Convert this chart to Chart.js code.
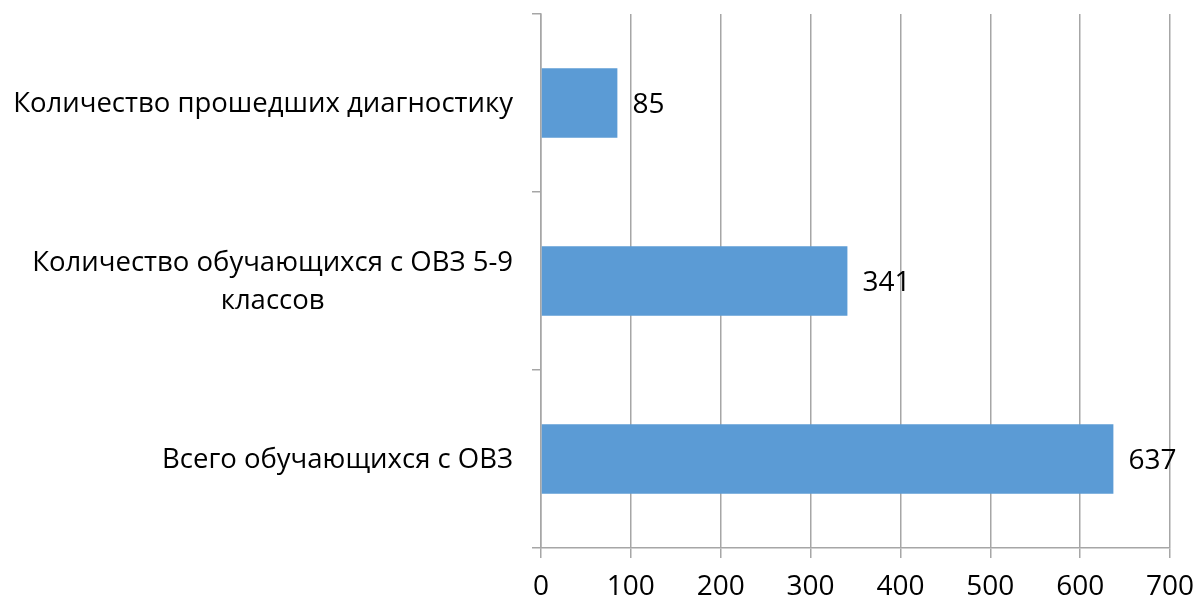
<!DOCTYPE html>
<html>
<head>
<meta charset="utf-8">
<script src="https://cdn.jsdelivr.net/npm/chart.js@4"></script>
<style>
  html, body { margin: 0; padding: 0; background: #fff; }
  #wrap { width: 1196px; height: 600px; }
</style>
</head>
<body>
<div id="wrap"><canvas id="myChart"></canvas></div>
<script>
var categories = [
  'Количество прошедших диагностику',
  ['Количество обучающихся с ОВЗ 5-9', 'классов'],
  'Всего обучающихся с ОВЗ'
];
var values = [85, 341, 637];
var xTicks = [0, 100, 200, 300, 400, 500, 600, 700];

var FONT = '"Open Sans", "DejaVu Sans", sans-serif';
var gridColor = '#a6a6a6';

// category labels: right edge at the same x, wrapped lines centred on each other
var catLabels = {
  id: 'catLabels',
  afterDraw: function(chart) {
    var ctx = chart.ctx, y = chart.scales.y;
    var right = y.right - 28;
    ctx.save();
    ctx.font = '27.5px ' + FONT;
    ctx.fillStyle = '#000';
    ctx.textBaseline = 'middle';
    ctx.textAlign = 'center';
    categories.forEach(function(lab, i) {
      var lines = Array.isArray(lab) ? lab : [lab];
      var w = Math.max.apply(null, lines.map(function(l) { return ctx.measureText(l).width; }));
      var cx = right - w / 2;
      var cy = y.getPixelForTick(i);
      var lh = 38;
      lines.forEach(function(l, k) {
        ctx.fillText(l, cx, cy + 1 + (k - (lines.length - 1) / 2) * lh);
      });
    });
    ctx.restore();
  }
};

// value next to each bar
var valueLabels = {
  id: 'valueLabels',
  afterDatasetsDraw: function(chart) {
    var ctx = chart.ctx;
    var meta = chart.getDatasetMeta(0);
    ctx.save();
    ctx.font = '28px ' + FONT;
    ctx.fillStyle = '#000';
    ctx.textBaseline = 'middle';
    ctx.textAlign = 'left';
    meta.data.forEach(function(bar, i) {
      ctx.fillText(values[i], bar.x + 15, bar.y + 2);
    });
    ctx.restore();
  }
};

var ctx = document.getElementById('myChart').getContext('2d');
var myChart = new Chart(ctx, {
  type: 'bar',
  data: {
    labels: categories,
    datasets: [{
      data: values,
      backgroundColor: '#5b9bd5',
      borderWidth: 0,
      categoryPercentage: 1,
      barPercentage: 0.39
    }]
  },
  options: {
    indexAxis: 'y',
    responsive: true,
    maintainAspectRatio: false,
    animation: false,
    layout: { padding: { top: 14, right: 26, left: 0, bottom: 0 } },
    plugins: { legend: { display: false }, tooltip: { enabled: false } },
    scales: {
      x: {
        min: 0,
        max: 700,
        afterBuildTicks: function(s) { s.ticks = xTicks.map(function(v) { return { value: v }; }); },
        grid: { color: gridColor, lineWidth: 1.5, tickLength: 10, drawTicks: true },
        border: { color: gridColor, width: 1.5 },
        ticks: { color: '#000', font: { family: FONT, size: 28 }, padding: 12, maxRotation: 0 },
        afterFit: function(s) { s.height = 52; s.paddingLeft = 0; s.paddingRight = 0; }
      },
      y: {
        grid: { color: gridColor, lineWidth: 1.5, drawOnChartArea: false, tickLength: 9, offset: true },
        border: { color: gridColor, width: 1.5 },
        ticks: { display: false },
        afterFit: function(s) { s.width = 541; }
      }
    }
  },
  plugins: [catLabels, valueLabels]
});
</script>
</body>
</html>
